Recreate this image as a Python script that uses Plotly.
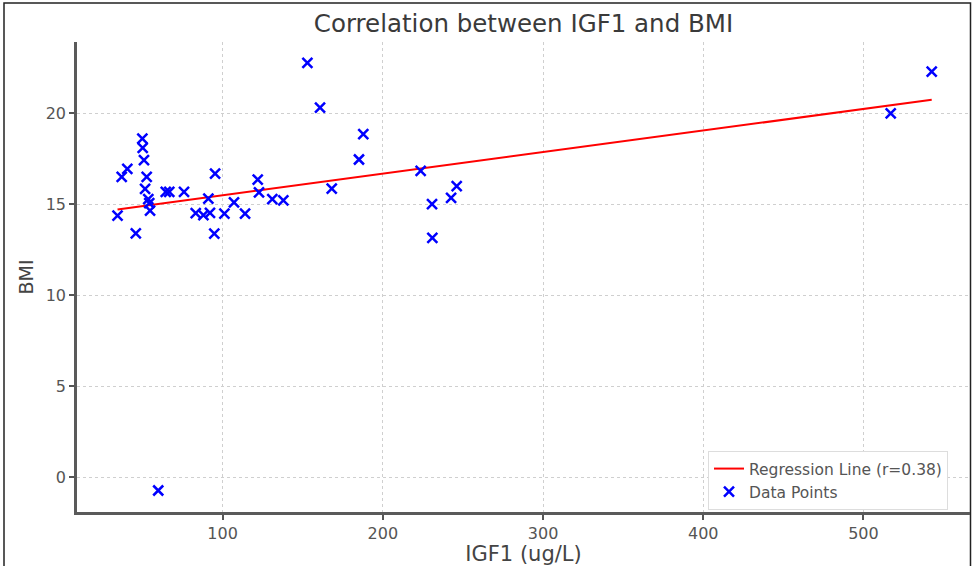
import plotly.graph_objects as go

# IGF1 (ug/L) and BMI values
igf1 = [34.4, 37.0, 40.5, 45.8, 49.9, 50.1, 50.9, 52.6, 51.6, 53.6, 54.2, 54.7,
        59.8, 64.5, 66.7, 75.9, 83.2, 88.0, 92.1, 91.1, 95.3, 94.8, 101.1, 107.1,
        114.0, 121.9, 122.7, 131.0, 137.9, 152.9, 160.8, 168.1, 185.1, 187.8,
        223.6, 230.7, 230.9, 242.6, 246.1, 517.0, 542.6]
bmi = [14.37, 16.49, 16.94, 13.40, 18.60, 18.09, 17.41, 16.49, 15.84, 15.27, 15.05, 14.64,
       -0.72, 15.67, 15.67, 15.67, 14.50, 14.39, 14.52, 15.30, 16.68, 13.38, 14.48, 15.09,
       14.48, 16.35, 15.64, 15.27, 15.21, 22.75, 20.30, 15.85, 17.45, 18.84,
       16.82, 15.00, 13.15, 15.35, 15.99, 19.98, 22.27]

# regression line
reg_intercept = 14.30
reg_slope = 0.01185
reg_label = "Regression Line (r=0.38)"

x_ticks = [100, 200, 300, 400, 500]
y_ticks = [0, 5, 10, 15, 20]

x_line = [min(igf1), max(igf1)]
y_line = [reg_intercept + reg_slope * v for v in x_line]

fig = go.Figure()
fig.add_trace(go.Scatter(
    x=x_line, y=y_line, mode="lines", name=reg_label,
    line=dict(color="red", width=2)))
fig.add_trace(go.Scatter(
    x=igf1, y=bmi, mode="markers", name="Data Points",
    marker=dict(symbol="x-thin", size=10, color="blue",
                line=dict(color="blue", width=2.5))))

axis_common = dict(
    showgrid=True, gridcolor="#cfcfcf", griddash="dot", gridwidth=1,
    showline=True, linecolor="#5a5a5a", linewidth=2.5,
    ticks="outside", ticklen=5, tickcolor="#555555", tickwidth=1.5,
    tickfont=dict(family="DejaVu Sans", size=16, color="#555555"),
    zeroline=False, mirror=False, automargin=False,
)

fig.update_layout(
    width=972, height=566,
    margin=dict(l=77, r=2, t=42, b=54, autoexpand=False),
    paper_bgcolor="white", plot_bgcolor="white",
    font=dict(family="DejaVu Sans", color="#444444"),
    title=dict(text="Correlation between IGF1 and BMI",
               x=(77 + 970) / 2 / 972, xanchor="center",
               y=1 - 23 / 566, yanchor="middle",
               font=dict(family="DejaVu Sans", size=24.5, color="#3a3a3a")),
    xaxis=dict(range=[9.1, 566.5], tickvals=x_ticks,
               title=dict(text="IGF1 (ug/L)", standoff=2,
                          font=dict(family="DejaVu Sans", size=21, color="#444444")),
               **axis_common),
    yaxis=dict(range=[-1.9, 23.9], tickvals=y_ticks,
               title=dict(text="BMI", standoff=8,
                          font=dict(family="DejaVu Sans", size=19, color="#444444")),
               **axis_common),
    showlegend=True,
    legend=dict(x=(708 - 77) / 893, y=(512 - 451) / 470, xanchor="left", yanchor="top",
                bgcolor="white", bordercolor="#dddddd", borderwidth=1,
                font=dict(family="DejaVu Sans", size=15.5, color="#555555"),
                tracegroupgap=0),
    shapes=[dict(type="rect", xref="paper", yref="paper",
                 x0=(4 - 77) / 893, x1=(970.5 - 77) / 893,
                 y0=(512 - 600) / 470, y1=(512 - 3) / 470,
                 line=dict(color="#222222", width=1.5), fillcolor="rgba(0,0,0,0)",
                 layer="below")],
)

fig.write_html("out.html", config={"displayModeBar": False},
               post_script="document.body.style.margin='0';document.body.style.overflow='hidden';")
